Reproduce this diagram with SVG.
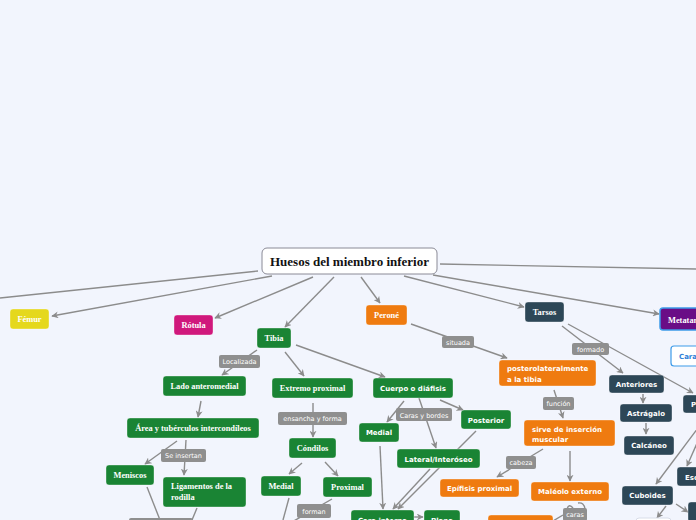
<svg xmlns="http://www.w3.org/2000/svg" width="696" height="520" viewBox="0 0 696 520">
<defs>
<marker id="ah" viewBox="0 0 10 10" refX="9" refY="5" markerWidth="7" markerHeight="7" markerUnits="userSpaceOnUse" orient="auto">
<path d="M0,0 L10,5 L0,10 L3,5 z" fill="#8c8c8c"/>
</marker>
<style>
.c{fill:none;stroke:#8c8c8c;stroke-width:1.4}
.ca{fill:none;stroke:#8c8c8c;stroke-width:1.4;marker-end:url(#ah)}
.n{stroke:#ffffff;stroke-opacity:0.35;stroke-width:1}
.g{fill:#1a8434}.o{fill:#ef7b10}.s{fill:#2d4757}
.lb{fill:#8f8f8f}
.ts{font-family:"Liberation Serif","Times New Roman",serif;font-weight:bold;font-size:8.4px;fill:#fff;text-anchor:middle}
.tv{font-family:"DejaVu Sans",Verdana,sans-serif;font-weight:bold;font-size:7px;fill:#fff;text-anchor:middle}
.tl{font-family:"DejaVu Sans",Verdana,sans-serif;font-size:6.5px;fill:#fff;text-anchor:middle}
.st{text-anchor:start}
</style>
</defs>
<rect width="696" height="520" fill="#f2f5fd"/>
<g id="connectors">
<path class="c" d="M258,271 L0,298"/>
<path class="ca" d="M272,276 L52,316"/>
<path class="ca" d="M313,277 L215,318"/>
<path class="ca" d="M334,277 L285,327"/>
<path class="ca" d="M361,277 L380,303"/>
<path class="ca" d="M404,276 L524,307"/>
<path class="ca" d="M433,275 L659,314"/>
<path class="c" d="M440,264 L696,269"/>
<path class="ca" d="M257,350 L222,375"/>
<path class="ca" d="M285,352 L304,376"/>
<path class="ca" d="M296,345 L385,377"/>
<path class="ca" d="M201,401 L198,417"/>
<path class="ca" d="M177,441 L145,464"/>
<path class="ca" d="M186,440 L184,475"/>
<path class="c" d="M147,487 L160,520"/>
<path class="c" d="M197,508 L192,520"/>
<path class="ca" d="M313,403 L313,437"/>
<path class="ca" d="M302,463 L289,474"/>
<path class="ca" d="M325,462 L338,476"/>
<path class="c" d="M332,499 L292,522"/>
<path class="c" d="M289,498 L283,520"/>
<path class="ca" d="M404,401 L387,422"/>
<path class="ca" d="M419,398 L436,448"/>
<path class="ca" d="M440,400 L463,410"/>
<path class="ca" d="M380,446 L383,509"/>
<path class="ca" d="M430,469 L393,509"/>
<path class="ca" d="M476,431 L398,509"/>
<path class="ca" d="M414,517 L423,517"/>
<path class="ca" d="M411,324 L507,358"/>
<path class="ca" d="M554,390 L563,418"/>
<path class="ca" d="M543,449 L497,477"/>
<path class="ca" d="M570,451 L570,481"/>
<path class="c" d="M567,509 Q569,503 573,508"/>
<path class="c" d="M578,503 Q584,502 585,509"/>
<path class="c" d="M563,515 L553,521"/>
<path class="ca" d="M562,326 L623,373"/>
<path class="ca" d="M568,324 L693,393"/>
<path class="ca" d="M643,394 L643,403"/>
<path class="ca" d="M646,423 L646,434"/>
<path class="ca" d="M710,412 L656,484"/>
<path class="ca" d="M702,432 L687,466"/>
<path class="ca" d="M666,506 L657,518"/>
<path class="ca" d="M676,504 L688,512"/>
</g>
<g id="root"><rect x="262" y="248" width="175" height="26" rx="5" fill="#ffffff" stroke="#8a8a96" stroke-width="1"/><text x="349.5" y="265.5" font-family="Liberation Serif, serif" font-weight="bold" font-size="13" fill="#111" text-anchor="middle">Huesos del miembro inferior</text></g>
<g id="femur"><rect class="n" x="10" y="309" width="39" height="20" rx="3" fill="#e5d81c"/><text class="ts" x="29.5" y="322">Fémur</text></g>
<g id="rotula"><rect class="n" x="174" y="315" width="39" height="20" rx="3" fill="#d0187c"/><text class="ts" x="193.5" y="328">Rótula</text></g>
<g id="tibia"><rect class="n g" x="257" y="328" width="34" height="20" rx="3"/><text class="ts" x="274" y="341">Tibia</text></g>
<g id="perone"><rect class="n o" x="366" y="305" width="41" height="20" rx="3"/><text class="ts" x="386.5" y="318">Peroné</text></g>
<g id="tarsos"><rect class="n s" x="525" y="302" width="39" height="20" rx="3"/><text class="ts" x="544.5" y="315">Tarsos</text></g>
<g id="metatarsos"><rect x="660" y="308" width="50" height="22" rx="3" fill="#6a0d86" stroke="#3d9be9" stroke-width="1.5"/><text class="ts st" x="668" y="322.5">Metatarsos</text></g>
<g id="cara"><rect x="671" y="346" width="40" height="20" rx="3" fill="#ffffff" stroke="#3d9be9" stroke-width="1.2"/><text class="tv st" x="679" y="359" style="fill:#2f7fd9">Cara</text></g>
<g id="lado"><rect class="n g" x="163" y="376" width="83" height="20" rx="3"/><text class="ts" x="204.5" y="389">Lado anteromedial</text></g>
<g id="extremo"><rect class="n g" x="272" y="378" width="81" height="20" rx="3"/><text class="ts" x="312.5" y="391">Extremo proximal</text></g>
<g id="cuerpo"><rect class="n g" x="373" y="378" width="80" height="20" rx="3"/><text class="tv" x="413" y="390.5">Cuerpo o diáfisis</text></g>
<g id="area"><rect class="n g" x="127" y="418" width="132" height="20" rx="3"/><text class="ts" x="193" y="431">Área y tubérculos intercondíleos</text></g>
<g id="meniscos"><rect class="n g" x="106" y="465" width="48" height="20" rx="3"/><text class="ts" x="130" y="478">Meniscos</text></g>
<g id="ligamentos"><rect class="n g" x="163" y="477" width="83" height="30" rx="3"/><text class="ts st" x="171" y="489">Ligamentos de la</text><text class="ts st" x="171" y="499.5">rodilla</text></g>
<g id="condilos"><rect class="n g" x="289" y="438" width="47" height="20" rx="3"/><text class="ts" x="312.5" y="451">Cóndilos</text></g>
<g id="medial1"><rect class="n g" x="261" y="476" width="40" height="20" rx="3"/><text class="ts" x="281" y="489">Medial</text></g>
<g id="proximal"><rect class="n g" x="323" y="477" width="49" height="20" rx="3"/><text class="ts" x="347.5" y="490">Proximal</text></g>
<g id="medial2"><rect class="n g" x="359" y="423" width="40" height="19" rx="3"/><text class="tv" x="379" y="435">Medial</text></g>
<g id="posterior"><rect class="n g" x="461" y="410" width="50" height="19" rx="3"/><text class="tv" x="486" y="422.5">Posterior</text></g>
<g id="lateral"><rect class="n g" x="397" y="449" width="83" height="19" rx="3"/><text class="tv" x="438.5" y="461.5">Lateral/Interóseo</text></g>
<g id="carainterna"><rect class="n g" x="351" y="510" width="63" height="20" rx="3"/><text class="tv" x="382.5" y="522.5">Cara interna</text></g>
<g id="plana"><rect class="n g" x="424" y="510" width="36" height="20" rx="3"/><text class="tv" x="442" y="522.5">Plana</text></g>
<g id="posterolat"><rect class="n o" x="499" y="360" width="97" height="26" rx="3"/><text class="tv st" x="507" y="371">posterolateralmente</text><text class="tv st" x="507" y="381.5">a la tibia</text></g>
<g id="sirve"><rect class="n o" x="524" y="420" width="91" height="26" rx="3"/><text class="tv st" x="532" y="431.5">sirve de inserción</text><text class="tv st" x="532" y="441.5">muscular</text></g>
<g id="epifisis"><rect class="n o" x="440" y="479" width="79" height="18" rx="3"/><text class="tv" x="479.5" y="490.5">Epífisis proximal</text></g>
<g id="maleolo"><rect class="n o" x="531" y="482" width="78" height="19" rx="3"/><text class="tv" x="570" y="494">Maléolo externo</text></g>
<g id="orangebottom"><rect class="n o" x="488" y="515" width="65" height="14" rx="3"/></g>
<g id="graybottom"><rect x="129" y="518" width="64" height="12" rx="2" fill="#8f8f8f"/></g>
<g id="anteriores"><rect class="n s" x="609" y="375" width="55" height="18" rx="3"/><text class="tv" x="636.5" y="386.5">Anteriores</text></g>
<g id="astragalo"><rect class="n s" x="620" y="404" width="52" height="18" rx="3"/><text class="tv" x="646" y="415.5">Astrágalo</text></g>
<g id="calcaneo"><rect class="n s" x="624" y="436" width="50" height="19" rx="3"/><text class="tv" x="649" y="448">Calcáneo</text></g>
<g id="posteriores"><rect class="n s" x="683" y="395" width="50" height="18" rx="3"/><text class="tv st" x="691" y="406.5">Posteriores</text></g>
<g id="escafoides"><rect class="n s" x="677" y="467" width="50" height="19" rx="3"/><text class="tv st" x="685" y="479.5">Escafoides</text></g>
<g id="cuboides"><rect class="n s" x="622" y="486" width="51" height="19" rx="3"/><text class="tv" x="647.5" y="498">Cuboides</text></g>
<g id="darkbottom"><rect class="n s" x="688" y="502" width="20" height="20" rx="3"/></g>
<g id="whitebottom"><rect x="636" y="518" width="35" height="10" rx="3" fill="#ffffff" stroke="#d8dde8"/></g>
<g id="labels">
<rect class="lb" x="219" y="355" width="41" height="13" rx="2"/><text class="tl" x="239.5" y="364">Localizada</text>
<rect class="lb" x="161" y="449" width="45" height="13" rx="2"/><text class="tl" x="183.5" y="458">Se insertan</text>
<rect class="lb" x="278" y="412" width="69" height="13" rx="2"/><text class="tl" x="312.5" y="421">ensancha y forma</text>
<rect class="lb" x="297" y="504" width="34" height="14" rx="2"/><text class="tl" x="314" y="513.5">forman</text>
<rect class="lb" x="396" y="408" width="56" height="13" rx="2"/><text class="tl" x="424" y="417.5">Caras y bordes</text>
<rect class="lb" x="442" y="336" width="32" height="12" rx="2"/><text class="tl" x="458" y="344.5">situada</text>
<rect class="lb" x="543" y="397" width="31" height="13" rx="2"/><text class="tl" x="558.5" y="406">función</text>
<rect class="lb" x="506" y="456" width="30" height="13" rx="2"/><text class="tl" x="521" y="465">cabeza</text>
<rect class="lb" x="572" y="343" width="37" height="12" rx="2"/><text class="tl" x="590.5" y="351.5">formado</text>
<rect class="lb" x="563" y="508" width="24" height="13" rx="2"/><text class="tl" x="575" y="517">caras</text>
</g>
</svg>
